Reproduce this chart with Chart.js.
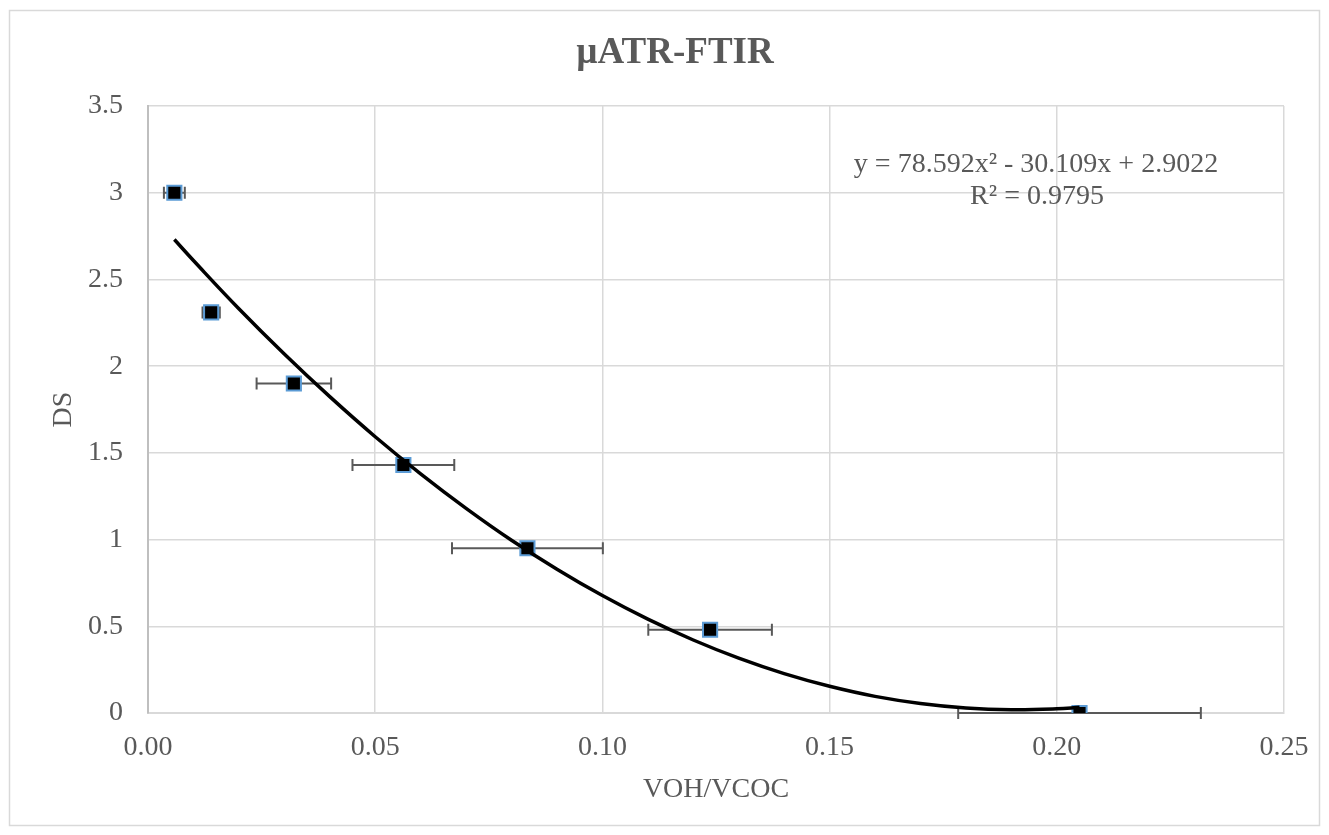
<!DOCTYPE html>
<html>
<head>
<meta charset="utf-8">
<script src="https://cdn.jsdelivr.net/npm/chart.js@4/dist/chart.umd.min.js"></script>
<style>
  html, body { margin: 0; padding: 0; background: #ffffff; }
  #wrap { width: 1329px; height: 835px; }
</style>
</head>
<body>
<div id="wrap"><canvas id="c" width="1329" height="835"></canvas></div>
<script>
// ---- data ----
const chartTitle = "µATR-FTIR";
const xAxisTitle = "VOH/VCOC";
const yAxisTitle = "DS";
const xValues = [0.0058, 0.0139, 0.0321, 0.0562, 0.0835, 0.1237, 0.2050];
const yValues = [3.00, 2.31, 1.90, 1.43, 0.95, 0.48, 0.00];
const xErrors = [0.0023, 0.0019, 0.0082, 0.0112, 0.0166, 0.0136, 0.0267];
// polynomial trendline, as drawn in the reference
const trendX = [0.0058, 0.01, 0.02, 0.03, 0.04, 0.05, 0.06, 0.07, 0.08, 0.09, 0.10, 0.11, 0.12, 0.13, 0.14, 0.15, 0.16, 0.17, 0.18, 0.19, 0.20, 0.205];
const trendY = [2.730, 2.609, 2.331, 2.070, 1.824, 1.593, 1.379, 1.180, 0.996, 0.829, 0.677, 0.541, 0.421, 0.316, 0.227, 0.154, 0.096, 0.055, 0.029, 0.019, 0.024, 0.033];
const trendLabelLines = ["y = 78.592x² - 30.109x + 2.9022", "R² = 0.9795"];
const xTickLabels = ["0.00", "0.05", "0.10", "0.15", "0.20", "0.25"];
const yTickLabels = ["0", "0.5", "1", "1.5", "2", "2.5", "3", "3.5"];

const FONT = "'Liberation Serif', 'Times New Roman', serif";
const TEXT = "#595959";

const pointData = xValues.map((x, i) => ({ x: x, y: yValues[i] }));
const trendData = trendX.map((x, i) => ({ x: x, y: trendY[i] }));

const decorPlugin = {
  id: 'decor',
  beforeDraw(chart) {
    const ctx = chart.ctx;
    ctx.save();
    ctx.fillStyle = '#ffffff';
    ctx.fillRect(0, 0, chart.width, chart.height);
    ctx.strokeStyle = '#d9d9d9';
    ctx.lineWidth = 1.5;
    ctx.strokeRect(9.5, 10.5, 1310, 815);
    ctx.restore();
  },
  beforeDatasetsDraw(chart) {
    // horizontal error bars
    const ctx = chart.ctx;
    const xs = chart.scales.x, ys = chart.scales.y;
    ctx.save();
    ctx.strokeStyle = '#595959';
    ctx.lineWidth = 2;
    for (let i = 0; i < xValues.length; i++) {
      const x0 = xs.getPixelForValue(xValues[i] - xErrors[i]);
      const x1 = xs.getPixelForValue(xValues[i] + xErrors[i]);
      const y = ys.getPixelForValue(yValues[i]);
      ctx.beginPath();
      ctx.moveTo(x0, y); ctx.lineTo(x1, y);
      ctx.moveTo(x0, y - 6); ctx.lineTo(x0, y + 6);
      ctx.moveTo(x1, y - 6); ctx.lineTo(x1, y + 6);
      ctx.stroke();
    }
    ctx.restore();
  },
  afterDraw(chart) {
    const ctx = chart.ctx;
    ctx.save();
    ctx.fillStyle = TEXT;
    ctx.textAlign = 'center';
    ctx.textBaseline = 'alphabetic';
    ctx.font = "bold 37px " + FONT;
    ctx.fillText(chartTitle, 675, 63);
    ctx.font = "28px " + FONT;
    ctx.fillText(trendLabelLines[0], 1036, 172);
    ctx.fillText(trendLabelLines[1], 1037, 204);
    ctx.restore();
  }
};

new Chart(document.getElementById('c'), {
  type: 'scatter',
  data: {
    datasets: [
      {
        label: 'Trendline',
        type: 'line',
        data: trendData,
        borderColor: '#000000',
        borderWidth: 3.5,
        pointRadius: 0,
        fill: false,
        tension: 0.4,
        order: 0
      },
      {
        label: 'DS',
        data: pointData,
        pointStyle: 'rect',
        pointRadius: 10,
        pointHoverRadius: 10,
        backgroundColor: '#000000',
        borderColor: '#5B9BD5',
        borderWidth: 2,
        order: 1
      }
    ]
  },
  options: {
    responsive: false,
    animation: false,
    devicePixelRatio: 1,
    layout: { padding: { left: 0, right: 45, top: 106, bottom: 0 } },
    plugins: {
      legend: { display: false },
      title: { display: false },
      tooltip: { enabled: false }
    },
    scales: {
      x: {
        type: 'linear',
        min: 0, max: 0.25,
        ticks: {
          stepSize: 0.05,
          color: TEXT,
          font: { family: FONT, size: 28 },
          padding: 18,
          callback: (v, i) => xTickLabels[i]
        },
        grid: { color: '#d9d9d9', lineWidth: 1.5, drawTicks: false },
        border: { color: '#d9d9d9', width: 2 },
        title: {
          display: true, text: xAxisTitle, color: TEXT,
          font: { family: FONT, size: 28 },
          padding: { top: 0, bottom: 29 }
        },
        afterFit(scale) { scale.height = 122; }
      },
      y: {
        type: 'linear',
        min: 0, max: 3.5,
        ticks: {
          stepSize: 0.5,
          color: TEXT,
          font: { family: FONT, size: 28 },
          padding: 25,
          callback: (v, i) => yTickLabels[i]
        },
        grid: { color: '#d9d9d9', lineWidth: 1.5, drawTicks: false },
        border: { color: '#bfbfbf', width: 2 },
        title: {
          display: true, text: yAxisTitle, color: TEXT,
          font: { family: FONT, size: 28 },
          padding: { top: 47, bottom: 0 }
        },
        afterFit(scale) { scale.width = 148; }
      }
    }
  },
  plugins: [decorPlugin]
});
</script>
</body>
</html>
